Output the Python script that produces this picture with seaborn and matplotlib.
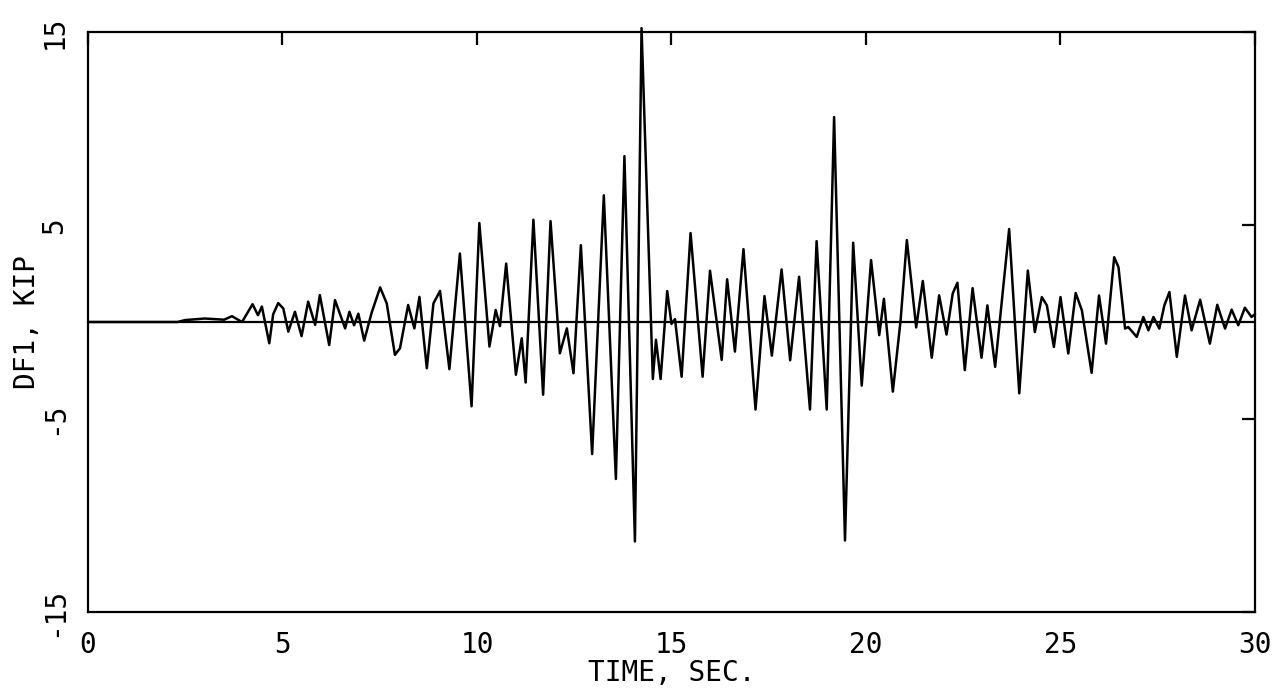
import numpy as np
import pandas as pd
import matplotlib
matplotlib.use("Agg")
import matplotlib.pyplot as plt
import seaborn as sns

# extrema (time in sec, force in kip)
time_sec = [
    0.0, 2.3, 2.5, 3.0, 3.5, 3.70, 3.96, 4.23, 4.37, 4.47, 4.66, 4.76, 4.89,
    5.02, 5.15, 5.32, 5.49, 5.66, 5.84, 5.96, 6.20, 6.35, 6.61, 6.72, 6.84,
    6.95, 7.10, 7.29, 7.51, 7.68, 7.89, 8.02, 8.23, 8.39, 8.52, 8.71, 8.88,
    9.05, 9.29, 9.56, 9.86, 10.06, 10.32, 10.48, 10.59, 10.75, 11.00, 11.15,
    11.25, 11.45, 11.70, 11.89, 12.13, 12.31, 12.48, 12.67, 12.96, 13.26,
    13.57, 13.79, 14.06, 14.23, 14.52, 14.60, 14.72, 14.89, 15.00, 15.09,
    15.26, 15.49, 15.80, 15.99, 16.29, 16.43, 16.63, 16.85, 17.16, 17.39,
    17.58, 17.83, 18.05, 18.28, 18.56, 18.73, 18.99, 19.18, 19.46, 19.67,
    19.89, 20.13, 20.34, 20.46, 20.69, 20.89, 21.05, 21.29, 21.46, 21.69,
    21.88, 22.07, 22.23, 22.35, 22.54, 22.74, 22.97, 23.12, 23.32, 23.68,
    23.94, 24.16, 24.34, 24.52, 24.65, 24.83, 25.00, 25.20, 25.39, 25.55,
    25.80, 25.99, 26.17, 26.38, 26.49, 26.66, 26.74, 26.96, 27.13, 27.26,
    27.39, 27.54, 27.67, 27.80, 27.99, 28.20, 28.37, 28.59, 28.84, 29.03,
    29.23, 29.40, 29.57, 29.74, 29.91, 30.0,
]
force_kip = [
    0.0, 0.0, 0.1, 0.18, 0.12, 0.3, 0.0, 0.92, 0.35, 0.8, -1.1, 0.4, 0.98,
    0.7, -0.5, 0.53, -0.73, 1.05, -0.15, 1.39, -1.19, 1.13, -0.33, 0.53, -0.17,
    0.43, -0.96, 0.47, 1.79, 0.96, -1.7, -1.36, 0.88, -0.33, 1.3, -2.39, 0.96,
    1.61, -2.44, 3.54, -4.36, 5.12, -1.27, 0.62, -0.21, 3.02, -2.73, -0.84,
    -3.13, 5.29, -3.76, 5.22, -1.62, -0.33, -2.65, 3.97, -6.83, 6.55,
    -8.12, 8.58, -11.35, 15.2, -2.95, -0.92, -2.95, 1.6, -0.1, 0.15,
    -2.83, 4.6, -2.83, 2.65, -1.96, 2.21, -1.53, 3.77, -4.53, 1.34,
    -1.74, 2.72, -1.98, 2.34, -4.53, 4.18, -4.53, 10.6, -11.3, 4.1,
    -3.29, 3.2, -0.68, 1.2, -3.6, 0.1, 4.24, -0.28, 2.12, -1.85,
    1.38, -0.65, 1.48, 2.03, -2.49, 1.75, -1.85, 0.86, -2.32, 4.81,
    -3.69, 2.66, -0.52, 1.29, 0.86, -1.29, 1.29, -1.63, 1.5, 0.6,
    -2.63, 1.37, -1.12, 3.35, 2.84, -0.34, -0.26, -0.77, 0.26, -0.43,
    0.26, -0.34, 0.86, 1.55, -1.8, 1.37, -0.43, 1.15, -1.12, 0.89,
    -0.34, 0.64, -0.17, 0.74, 0.26, 0.4,
]

x_ticks = [0, 5, 10, 15, 20, 25, 30]
y_ticks = [-15, -5, 5, 15]

df = pd.DataFrame({"time": time_sec, "force": force_kip})

sns.set_style("white")
plt.rcParams["font.family"] = ["DejaVu Sans Mono", "DejaVu Sans"]

fig = plt.figure(figsize=(12.77, 6.90), dpi=100)
ax = fig.add_axes([88 / 1277, 1 - 612 / 690, (1255 - 88) / 1277, (612 - 32) / 690])

sns.lineplot(data=df, x="time", y="force", ax=ax, color="black", linewidth=1.8,
             estimator=None, sort=False, clip_on=False)
ax.axhline(0, color="black", linewidth=1.6)

ax.set_xlim(0, 30)
ax.set_ylim(-15, 15)
ax.set_xticks(x_ticks)
ax.set_yticks(y_ticks)
ax.set_xticklabels([str(t) for t in x_ticks])
ax.set_yticklabels([str(t) for t in y_ticks], rotation=90, va="center")

ax.tick_params(direction="in", length=9.5, width=1.6, top=True, right=True,
               labelsize=20, pad=14, colors="black")
for s in ax.spines.values():
    s.set_linewidth(1.6)
    s.set_color("black")

ax.set_xlabel("TIME, SEC.", fontsize=20, labelpad=0, color="black")
ax.set_ylabel("DF1, KIP", fontsize=20, labelpad=0, color="black")

fig.savefig("out.png", dpi=100)
